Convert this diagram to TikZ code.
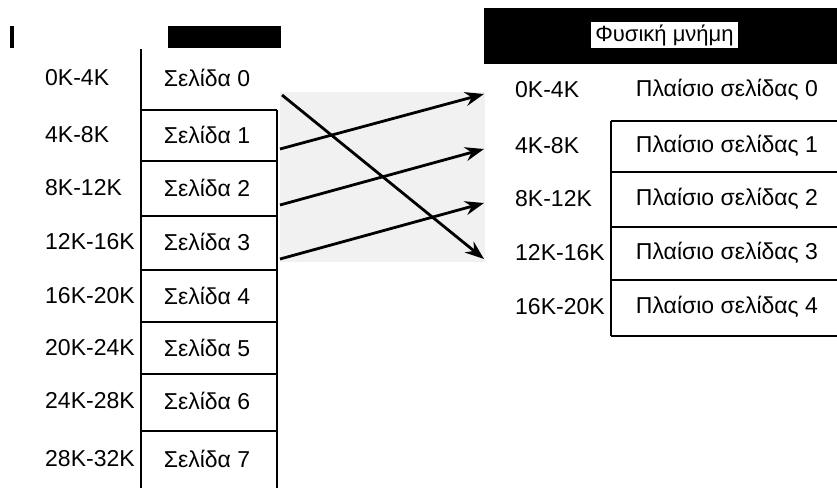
\documentclass[tikz,border=0pt]{standalone}
\usepackage{fontspec}
\setmainfont{Liberation Sans}
\usetikzlibrary{arrows.meta}
\definecolor{bggray}{HTML}{F1F1F1}
\begin{document}
\begin{tikzpicture}[x=1pt,y=-1pt,
  rule/.style={line width=2.8pt},
  lbl/.style={font=\fontsize{23}{26}\selectfont, inner sep=0pt},
  addr/.style={lbl, anchor=west},
  cell/.style={lbl, anchor=center},
  maparrow/.style={line width=2.8pt, -{Stealth[length=19pt,width=14pt]}}]
\useasboundingbox (0,0) rectangle (837,488);
% black bars
\fill (10,26) rectangle (14,48);
\fill (168,26) rectangle (281,48);
\fill (484,8) rectangle (837,64);
\node[lbl, font=\fontsize{22}{25}\selectfont, fill=white, inner xsep=4pt, minimum height=26pt] (title) at (664.5,35) {Φυσική μνήμη};
% left table
\draw[rule] (141,49) -- (141,488);
\draw[rule] (277,110) -- (277,488);
\foreach \y in {110,161,216,270,322,374,431} \draw[rule] (141,\y) -- (277,\y);
\foreach \i/\y/\a in {0/78/0K-4K,1/135/4K-8K,2/188/8K-12K,3/242/12K-16K,4/296/16K-20K,5/348/20K-24K,6/401/24K-28K,7/459/28K-32K}{
  \node[addr] (va\i) at (45,\y) {\a};
  \node[cell] (vp\i) at (207,\y) {Σελίδα \i};
}
% right table
\draw[rule] (611,121) -- (611,336);
\foreach \y in {121,172,227,280,336} \draw[rule] (611,\y) -- (837,\y);
\foreach \i/\y/\a in {0/90/0K-4K,1/146/4K-8K,2/199/8K-12K,3/253/12K-16K,4/307/16K-20K}{
  \node[addr] (pa\i) at (515,\y) {\a};
  \node[cell] (pf\i) at (727,\y) {Πλαίσιο σελίδας \i};
}
% mapping
\fill[bggray] (280,92) rectangle (485,262);
\coordinate (s0) at (282,95);  \coordinate (e0) at (484,259);
\coordinate (s1) at (280,149); \coordinate (e1) at (484,94);
\coordinate (s2) at (280,205); \coordinate (e2) at (484,149);
\coordinate (s3) at (280,259); \coordinate (e3) at (484,203);
\foreach \i in {0,1,2,3} \draw[maparrow] (s\i) -- (e\i);
\end{tikzpicture}
\end{document}
